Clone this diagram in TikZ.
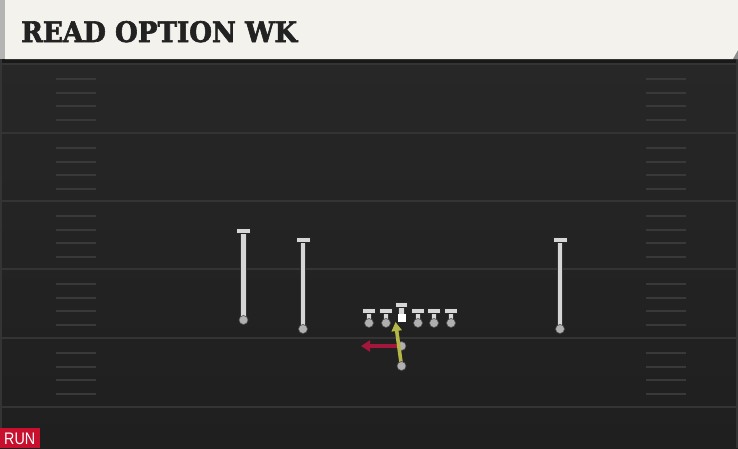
\documentclass[tikz,border=0pt]{standalone}
\usepackage{fontspec}
\usetikzlibrary{arrows.meta}
\newfontfamily\titlefont{DejaVu Serif}[BoldFeatures={FakeBold=2.2}]
\newfontfamily\runfont{Liberation Sans}
\definecolor{cream}{HTML}{F4F2EC}
\definecolor{leftbar}{HTML}{B4B4B4}
\definecolor{fieldtop}{HTML}{272727}
\definecolor{fieldbot}{HTML}{1F1F1F}
\definecolor{yardline}{HTML}{343434}
\definecolor{hashc}{HTML}{393939}
\definecolor{runred}{HTML}{C8102E}
\definecolor{routered}{HTML}{A3173A}
\definecolor{routeyel}{HTML}{B4B748}
\definecolor{playerc}{HTML}{D6D6D6}
\definecolor{dotc}{HTML}{B0B0B0}
\definecolor{titlec}{HTML}{222222}
\tikzset{
  yardst/.style={yardline, line width=2pt},
  hashst/.style={hashc, line width=1.6pt},
  dotst/.style={circle, inner sep=0pt, minimum size=9pt, fill=dotc, draw=black!70, line width=0.6pt},
  stemout/.style={black!80, line width=6.5pt},
  stemin/.style={playerc, line width=4.4pt},
  wrbar/.style={rectangle, inner sep=0pt, minimum width=14pt, minimum height=5pt, fill=playerc, draw=black!85, line width=0.7pt},
  olbar/.style={rectangle, inner sep=0pt, minimum width=12.5pt, minimum height=5pt, fill=playerc, draw=black!85, line width=0.7pt},
  ballst/.style={rectangle, inner sep=0pt, minimum size=8pt, fill=white},
  redroute/.style={routered, line width=4pt, -{Triangle[length=9pt,width=11pt]}},
  yelroute/.style={routeyel, line width=3.6pt, -{Triangle[length=9pt,width=10pt]}},
}
\begin{document}
\begin{tikzpicture}[x=1pt,y=-1pt]
\useasboundingbox (0,0) rectangle (738,448);
% field
\shade[top color=fieldtop, bottom color=fieldbot] (0,59) rectangle (738,448);
\fill[black!90] (0,59) rectangle (738,63);
\fill[yardline] (0,59) rectangle (2,448);
\fill[yardline] (736,59) rectangle (738,448);
\foreach \y in {64,133,201,269,338,407} {\draw[yardst] (0,\y) -- (738,\y);}
\foreach \b in {64,133,201,269,338} {
  \foreach \o in {15,29,42,56} {
    \draw[hashst] (56,\b+\o) -- (96,\b+\o);
    \draw[hashst] (646,\b+\o) -- (686,\b+\o);
  }
}
% header
\fill[cream] (5,0) -- (738,0) -- (738,48) -- (733,59) -- (5,59) -- cycle;
\fill[leftbar] (0,0) rectangle (5,59);
\fill[black!45] (738,50) -- (738,59) -- (733,59) -- cycle;
\node[anchor=base west, inner sep=0pt, text=titlec] (title) at (21,42)
  {\resizebox{276pt}{21pt}{\titlefont\bfseries READ OPTION WK}};
% run tag
\fill[runred] (0,428) rectangle (40,448);
\node[anchor=base west, inner sep=0pt, text=white] (run) at (4,444)
  {\resizebox{31pt}{11.5pt}{\runfont RUN}};
% receivers
\foreach \n/\x/\t/\d in {wra/243.5/231/320, wrb/303/240/329, wrc/560/240/329} {
  \coordinate (\n t) at (\x,\t);
  \coordinate (\n d) at (\x,\d);
  \draw[stemout] (\n t) -- (\n d);
  \draw[stemin] (\n t) -- (\n d);
  \node[dotst] (\n) at (\n d) {};
  \node[wrbar] (\n bar) at (\n t) {};
}
% offensive line
\foreach \n/\x in {lt/369, lg/386, rg/418, rt/434, te/451} {
  \coordinate (\n t) at (\x,311);
  \coordinate (\n d) at (\x,323);
  \draw[stemout] (\n t) -- (\n d);
  \draw[stemin] (\n t) -- (\n d);
  \node[dotst] (\n) at (\n d) {};
  \node[olbar] (\n bar) at (\n t) {};
}
% center
\coordinate (ct) at (401.5,305);
\coordinate (cd) at (401.5,318);
\draw[stemout] (ct) -- (cd);
\draw[stemin] (ct) -- (cd);
\node[olbar] (cbar) at (ct) {};
\node[ballst] (ball) at (cd) {};
% backs and routes
\coordinate (qbc) at (401.5,346);
\coordinate (rbc) at (401.5,366);
\coordinate (redtip) at (361,346);
\coordinate (yeltip) at (395.5,322);
\draw[redroute] (qbc) -- (redtip);
\node[dotst] (qb) at (qbc) {};
\draw[yelroute] (rbc) -- (yeltip);
\node[dotst] (rb) at (rbc) {};
\end{tikzpicture}
\end{document}
